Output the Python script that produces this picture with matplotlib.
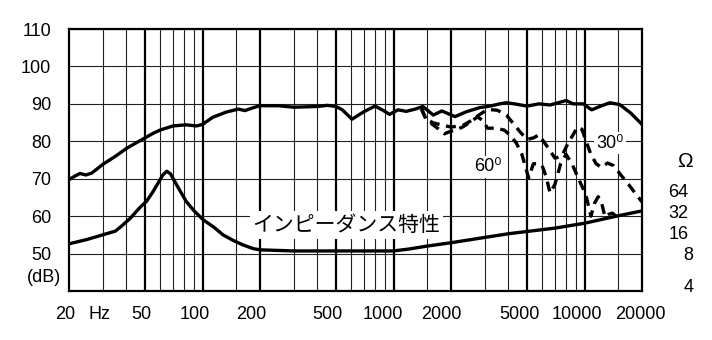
import matplotlib
matplotlib.use('Agg')
from matplotlib import pyplot as plt
from matplotlib import transforms

plt.rcParams['font.family'] = ['Liberation Sans Narrow', 'Liberation Sans', 'DejaVu Sans']

# on-axis response (solid, upper)
freq_on = [20, 21.5, 22.8, 24.5, 26.3, 30, 35, 40, 45, 50, 55, 60, 70, 82, 93, 100,
           113, 133, 154, 167, 185, 200, 250, 300, 400, 450, 500, 540, 606, 700, 800,
           880, 954, 1056, 1165, 1300, 1426, 1615, 1790, 2100, 2410, 2830, 3200, 3600,
           3900, 4300, 5000, 5770, 6600, 8040, 8700, 9850, 10900, 12300, 13600, 15300,
           17500, 20000]
spl_on = [69.8, 70.7, 71.4, 71.0, 71.5, 73.8, 76.0, 78.1, 79.6, 80.9, 82.1, 83.0, 84.1,
          84.4, 84.1, 84.5, 86.4, 87.8, 88.6, 88.2, 89.0, 89.5, 89.5, 89.1, 89.3, 89.6,
          89.3, 88.4, 85.9, 87.9, 89.4, 88.3, 87.2, 88.4, 88.0, 88.6, 89.3, 87.0, 88.1,
          86.6, 87.9, 89.0, 89.4, 90.0, 90.3, 90.0, 89.4, 90.0, 89.7, 90.9, 90.0, 90.0,
          88.4, 89.5, 90.3, 89.8, 87.5, 84.5]

# 30 degree off-axis (dashed)
freq_30 = [1400, 1460, 1600, 1800, 2000, 2300, 2550, 2800, 3100, 3500, 3900, 4200, 4600,
           5000, 5400, 5770, 6200, 6600, 7000, 7600, 8200, 8700, 9200, 9700, 10200, 10800,
           11500, 12300, 13200, 14200, 15500, 17000, 18500, 20000]
spl_30 = [89.0, 86.5, 85.0, 84.3, 83.8, 84.2, 85.5, 87.0, 88.5, 88.3, 87.0, 85.0, 82.5,
          80.5, 80.9, 81.7, 79.5, 77.5, 75.5, 76.0, 79.5, 81.7, 83.8, 83.2, 80.0, 76.5,
          74.0, 73.0, 74.2, 73.5, 71.0, 68.5, 66.0, 63.8]

# 60 degree off-axis (dashed)
freq_60 = [1400, 1480, 1600, 1750, 1850, 1950, 2100, 2300, 2500, 2750, 2950, 3100, 3400,
           3800, 4100, 4400, 4700, 4950, 5100, 5400, 5700, 6000, 6300, 6600, 7000, 7500,
           8000, 8600, 9300, 10000, 10300, 10800, 11300, 11800, 12300, 12800, 13400,
           14000, 14800, 15600]
spl_60 = [88.5, 86.0, 84.5, 83.0, 82.0, 82.5, 83.0, 83.8, 85.0, 86.5, 85.5, 83.5, 83.5,
          83.0, 81.5, 79.5, 76.5, 72.5, 70.2, 74.0, 74.0, 73.5, 70.5, 66.2, 68.5, 74.0,
          76.5, 74.0, 70.0, 66.5, 64.5, 60.0, 63.5, 65.2, 63.5, 59.8, 60.5, 60.8, 59.8,
          59.2]

# impedance curve (solid, lower)
freq_imp = [20, 25, 30, 35, 38, 42, 47, 51, 55, 58, 62, 65, 68, 72, 82, 90, 101, 115,
            128, 145, 163, 185, 200, 300, 1000, 1200, 1500, 2000, 4000, 7000, 10000,
            15000, 20000]
spl_imp = [52.6, 53.8, 55.0, 56.0, 57.5, 59.5, 62.3, 64.0, 66.5, 68.5, 71.0, 72.0, 71.3,
           69.0, 64.0, 61.5, 59.0, 57.0, 55.0, 53.5, 52.3, 51.3, 51.0, 50.7, 50.7, 51.2,
           52.0, 52.9, 55.3, 56.8, 58.1, 60.1, 61.4]

xtick_pos = [20, 29, 50, 100, 200, 500, 1000, 2000, 5000, 10000, 20000]
xtick_labels = ['20', 'Hz', '50', '100', '200', '500', '1000', '2000', '5000', '10000', '20000']
db_ticks = [50, 60, 70, 80, 90, 100, 110]
grid_thin = [30, 40, 60, 70, 80, 90, 150, 300, 400, 600, 700, 800, 900, 1500,
             3000, 4000, 6000, 7000, 8000, 9000, 15000]
grid_thick = [50, 100, 200, 500, 1000, 2000, 5000, 10000]
ohm_labels = ['64', '32', '16', '8', '4']
ohm_levels = [66.4, 60.8, 55.0, 49.6, 41.0]

fig = plt.figure(figsize=(7.12, 3.40), dpi=100)
ax = fig.add_axes([69 / 712, 49 / 340, 573 / 712, 262 / 340])
ax.set_xscale('log')
ax.set_xlim(20, 20000)
ax.set_ylim(40, 110)

for f in grid_thin:
    ax.axvline(f, color='#222222', lw=0.8, zorder=1)
for f in grid_thick:
    ax.axvline(f, color='black', lw=1.6, zorder=1)
for v in db_ticks:
    ax.axhline(v, color='#222222', lw=0.8, zorder=1)

for s in ax.spines.values():
    s.set_linewidth(1.6)

ax.xaxis.set_minor_locator(matplotlib.ticker.NullLocator())
ax.set_xticks(xtick_pos)
ax.set_xticklabels(xtick_labels)
ax.set_yticks(db_ticks)
ax.set_yticklabels([str(v) for v in db_ticks])
ax.tick_params(axis='both', length=0, labelsize=13)
ax.tick_params(axis='y', pad=13)
ax.tick_params(axis='x', pad=10.5)

# the printed x labels sit a little left of their lines
shifts = [-4, 0, -4, -8, -9, -9, -11, -10, -8, -8, -2]
for lab, dx in zip(ax.get_xticklabels(), shifts):
    off = transforms.ScaledTranslation(dx / 100, 0, fig.dpi_scale_trans)
    lab.set_transform(lab.get_transform() + off)

ax.plot(freq_on, spl_on, color='black', lw=2.4, zorder=4, solid_joinstyle='round')
ax.plot(freq_imp, spl_imp, color='black', lw=2.4, zorder=4, solid_joinstyle='round')
ax.plot(freq_30, spl_30, color='black', lw=2.4, ls=(0, (3, 2)), zorder=4)
ax.plot(freq_60, spl_60, color='black', lw=2.4, ls=(0, (3, 2)), zorder=4)

white = dict(facecolor='white', edgecolor='none', pad=2)
ax.text(566, 57.6, 'インピーダンス特性', ha='center', va='center', fontsize=15,
        family=['Noto Sans CJK JP', 'DejaVu Sans'], bbox=white, zorder=3)
ax.text(3130, 73.2, '60⁰', ha='center', va='center', fontsize=13, bbox=white, zorder=3)
ax.text(13600, 79.5, '30⁰', ha='center', va='center', fontsize=13, bbox=white, zorder=3)

blend = transforms.blended_transform_factory(ax.transAxes, ax.transData)
ax.text(-0.0445, 43.5, '(dB)', ha='center', va='center', fontsize=13, transform=blend)
ax.text(1.075, 74.5, 'Ω', ha='center', va='center', fontsize=15, transform=blend,
        clip_on=False)
for lab, lev in zip(ohm_labels, ohm_levels):
    xa = 1.081 if len(lab) == 1 else 1.064
    ax.text(xa, lev, lab, ha='center', va='center', fontsize=13, transform=blend,
            clip_on=False)

fig.savefig('out.png', dpi=100)
